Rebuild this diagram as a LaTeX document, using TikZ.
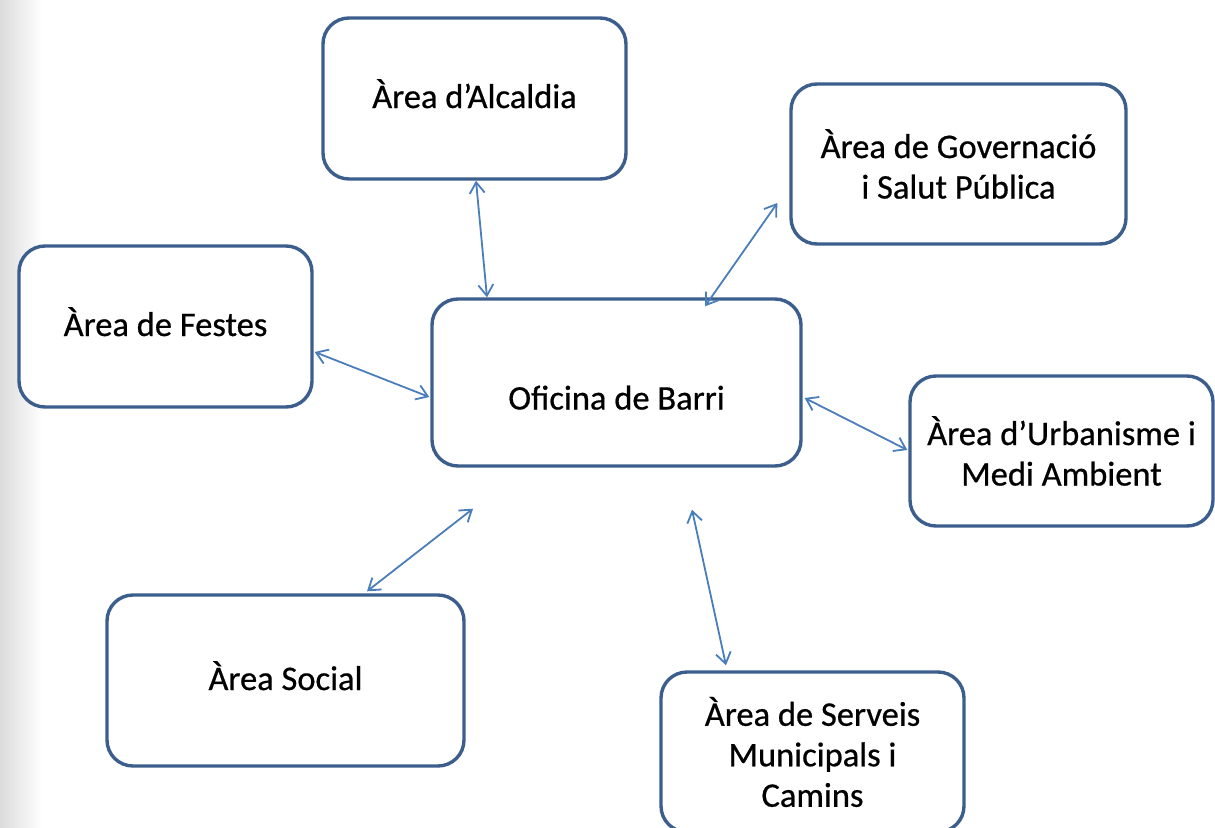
\documentclass[tikz,border=0pt]{standalone}
\usepackage{fontspec}
\setmainfont{Carlito}[FakeBold=0.6]
\usetikzlibrary{arrows.meta}
\definecolor{boxblue}{HTML}{3B5E8C}
\definecolor{arrblue}{HTML}{4A7EBB}
\tikzset{
  area/.style={draw=boxblue, line width=3.4pt, rounded corners=26pt, fill=white,
    inner sep=0pt, align=center, font=\fontsize{34.5}{40.5}\selectfont},
  oneline/.style={text height=26pt, text depth=7pt},
  link/.style={draw=arrblue, line width=1.8pt,
    {Straight Barb[length=11pt,width=15pt]}-{Straight Barb[length=11pt,width=15pt]}}
}
\begin{document}
\begin{tikzpicture}[x=1pt,y=-1pt]
\useasboundingbox (0,0) rectangle (1215,827);
\clip (0,0) rectangle (1215,827);
\shade[left color=black!14, right color=white] (0,0) rectangle (42,827);
\node[area, oneline, minimum width=303pt, minimum height=161pt] (alc) at (474.5,98.5) {Àrea d’Alcaldia};
\node[area, minimum width=335pt, minimum height=160pt] (gov) at (958.5,164) {Àrea de Governació\\i Salut Pública};
\node[area, oneline, minimum width=293pt, minimum height=161pt] (fes) at (165.5,326.5) {Àrea de Festes};
\node[area, text height=54pt, text depth=0pt, minimum width=369pt, minimum height=167pt] (ofi) at (616.5,382.5) {Oficina de Barri};
\node[area, minimum width=303pt, minimum height=150pt] (urb) at (1061.5,451) {Àrea d’Urbanisme i\\Medi Ambient};
\node[area, oneline, minimum width=357pt, minimum height=171pt] (soc) at (285.5,680.5) {Àrea Social};
\node[area, minimum width=303pt, minimum height=160pt] (ser) at (812.5,752) {Àrea de Serveis\\Municipals i\\Camins};

\draw[link] ([xshift=1.5pt]alc.south) -- ([xshift=-129.5pt]ofi.north);
\draw[link] ([xshift=-12pt,yshift=-39pt]gov.west) -- ([xshift=88.5pt,yshift=-9pt]ofi.north);
\draw[link] ([xshift=1pt,yshift=-25.5pt]fes.east) -- ([xshift=-1pt,yshift=-14.5pt]ofi.west);
\draw[link] ([xshift=2pt,yshift=-15.5pt]ofi.east) -- ([xshift=-1pt,yshift=1pt]urb.west);
\draw[link] ([xshift=-143.5pt,yshift=-41pt]ofi.south) -- ([xshift=81.5pt,yshift=2pt]soc.north);
\draw[link] ([xshift=75.5pt,yshift=-42pt]ofi.south) -- ([xshift=-86.5pt,yshift=5pt]ser.north);
\end{tikzpicture}
\end{document}
